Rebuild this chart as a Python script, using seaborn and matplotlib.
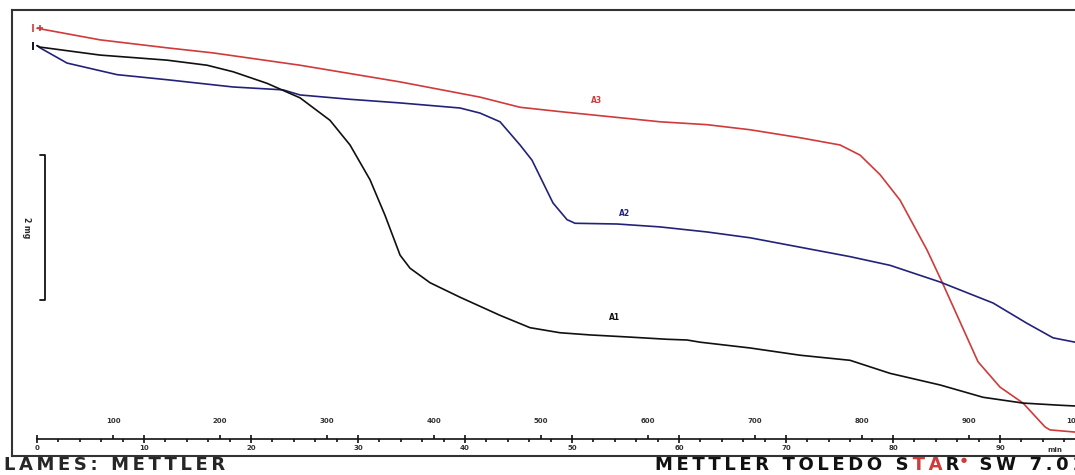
import numpy as np
import pandas as pd
import seaborn as sns
import matplotlib.pyplot as plt

# TGA curves: time in min, mass in mg (scale bar = 2 mg)
red_t = [0, 5.89, 12.15, 16.45, 24.58, 33.93, 41.40, 45.14, 48.88, 53.55, 58.22, 62.62, 66.64, 71.31,
         75.05, 76.92, 78.79, 80.65, 83.18, 84.58, 86.26, 87.94, 90.00, 92.15, 94.21, 94.67, 97.01]
red_mg = [5.90, 5.74, 5.63, 5.56, 5.39, 5.16, 4.95, 4.81, 4.75, 4.68, 4.61, 4.57, 4.50, 4.39,
          4.29, 4.15, 3.88, 3.53, 2.84, 2.40, 1.85, 1.30, 0.95, 0.73, 0.40, 0.36, 0.33]

blue_t = [0, 0.28, 2.80, 7.48, 12.15, 18.32, 22.99, 24.58, 29.25, 33.93, 39.53, 41.40, 43.27, 45.14, 46.26,
          48.22, 49.53, 50.28, 54.21, 58.22, 62.62, 66.64, 71.31, 75.98, 79.72, 84.39, 89.35, 92.52, 94.95, 97.01]
blue_mg = [5.66, 5.63, 5.42, 5.26, 5.19, 5.09, 5.05, 4.98, 4.92, 4.87, 4.80, 4.73, 4.61, 4.29, 4.08,
           3.49, 3.26, 3.21, 3.20, 3.16, 3.09, 3.01, 2.88, 2.75, 2.63, 2.40, 2.11, 1.83, 1.63, 1.57]

black_t = [0, 0.28, 5.89, 12.15, 15.89, 18.32, 21.50, 24.58, 27.38, 29.25, 31.12, 32.52, 33.93, 34.86, 36.73,
           39.53, 43.27, 46.07, 48.88, 51.68, 55.42, 58.88, 60.75, 61.96, 66.64, 71.31, 75.98, 79.72, 84.39,
           88.41, 92.15, 95.61, 97.01]
black_mg = [5.66, 5.64, 5.53, 5.46, 5.39, 5.30, 5.14, 4.94, 4.63, 4.29, 3.81, 3.32, 2.77, 2.59, 2.39,
            2.19, 1.94, 1.77, 1.70, 1.67, 1.64, 1.61, 1.60, 1.57, 1.49, 1.39, 1.32, 1.14, 0.98,
            0.81, 0.73, 0.70, 0.69]

names = ['A3', 'A2', 'A1']
colors = ['#d03a3a', '#22227a', '#101010']
label_pos = [(52.3, 4.84), (54.95, 3.28), (54.0, 1.85)]

time_ticks = [0, 10, 20, 30, 40, 50, 60, 70, 80, 90]
temp_ticks = [100, 200, 300, 400, 500, 600, 700, 800, 900, 1000]
start_temp = 29    # °C at t = 0
rate = 10          # K/min

df = pd.concat([
    pd.DataFrame({'t': red_t, 'mg': red_mg, 'sample': 'A3'}),
    pd.DataFrame({'t': blue_t, 'mg': blue_mg, 'sample': 'A2'}),
    pd.DataFrame({'t': black_t, 'mg': black_mg, 'sample': 'A1'}),
])

sns.set_style('white')
plt.rcParams['font.family'] = ['DejaVu Sans']

fig = plt.figure(figsize=(10.75, 4.75), dpi=100)
ax = fig.add_axes([12 / 1075, 19 / 475, 1073 / 1075, 446 / 475])

sns.lineplot(data=df, x='t', y='mg', hue='sample', palette=dict(zip(names, colors)),
             sort=False, estimator=None, linewidth=1.2, legend=False, ax=ax)

ax.set_xlim(-2.34, 97.94)
ax.set_ylim(0, 446 / 72.5)
ax.set_xticks([])
ax.set_yticks([])
ax.set_xlabel('')
ax.set_ylabel('')
for s in ax.spines.values():
    s.set_color('#333333')
    s.set_linewidth(1.5)

# start markers
for y0, c in zip([red_mg[0], blue_mg[0], black_mg[0]], colors):
    ax.plot(-0.35, y0, marker='|', color=c, markersize=6, mew=1.2)
ax.plot(0.3, red_mg[0], marker='+', color=colors[0], markersize=5, mew=1.2)

# curve labels
for n, c, (x, y) in zip(names, colors, label_pos):
    ax.text(x, y, n, color=c, fontsize=5.5, fontweight='bold', ha='center', va='bottom')

# mass scale bar (2 mg)
ax.plot([0.28, 0.75, 0.75, 0.28], [4.15, 4.15, 2.15, 2.15], color='#111111', lw=1.3)
ax.text(-0.95, 3.15, '2 mg', rotation=270, fontsize=5.5, fontweight='bold', ha='center', va='center')

# time axis (min) and temperature axis (°C) on one line
loc = 17 / 446
tax = ax.secondary_xaxis(loc)
tax.set_xticks(time_ticks)
tax.set_xticks(np.arange(0, 98, 2), minor=True)
tax.set_xticklabels([str(v) for v in time_ticks])
tax.tick_params(axis='x', which='major', direction='inout', length=6, width=1.2, pad=1,
                labelsize=5, labelcolor='#333333', color='#111111')
tax.tick_params(axis='x', which='minor', direction='out', length=2.5, width=1.2, color='#111111')
for lab in tax.get_xticklabels():
    lab.set_fontweight('bold')
tax.spines['bottom'].set_bounds(0, 100)
tax.spines['top'].set_bounds(0, 100)
for s in tax.spines.values():
    s.set_linewidth(1.2)
    s.set_color('#111111')

Tax = ax.secondary_xaxis(loc, functions=(lambda t: start_temp + rate * t, lambda T: (T - start_temp) / rate))
Tax.set_alignment('top')
Tax.set_xticks(temp_ticks)
Tax.set_xticklabels([str(v) for v in temp_ticks])
Tax.tick_params(axis='x', which='major', direction='out', length=3, width=1.2, pad=8,
                labelsize=5, labelcolor='#333333', color='#111111')
for lab in Tax.get_xticklabels():
    lab.set_fontweight('bold')
for s in Tax.spines.values():
    s.set_visible(False)

ax.text(95.1, 0.08, 'min', fontsize=5, fontweight='bold', color='#333333', ha='center', va='center')

# footer
def spaced(s):
    return '\u2009'.join(s)

fig.text(4 / 1075, 0.002, spaced('LAMES: METTLER'), fontsize=13, fontweight='heavy', va='bottom')

t1 = fig.text(655 / 1075, 0.002, spaced('METTLER TOLEDO S'), color='#111111', fontsize=13,
              fontweight='heavy', va='bottom')
t2 = ax.annotate('\u2009' + spaced('TA'), xy=(1, 0), xycoords=t1, color='#d03a3a', fontsize=13,
                 fontweight='heavy', va='bottom', ha='left', annotation_clip=False)
t3 = ax.annotate('\u2009R', xy=(1, 0), xycoords=t2, color='#111111', fontsize=13,
                 fontweight='heavy', va='bottom', ha='left', annotation_clip=False)
ax.annotate('\u25cf', xy=(1, 0.95), xycoords=t3, xytext=(1, 0), textcoords='offset points',
            color='#d03a3a', fontsize=5, va='top', ha='left', annotation_clip=False)
ax.annotate('\u2009' + spaced(' SW 7.01'), xy=(1, 0), xycoords=t3, xytext=(5, 0),
            textcoords='offset points', color='#111111', fontsize=13, fontweight='heavy',
            va='bottom', ha='left', annotation_clip=False)

fig.savefig('out.png', dpi=100)
